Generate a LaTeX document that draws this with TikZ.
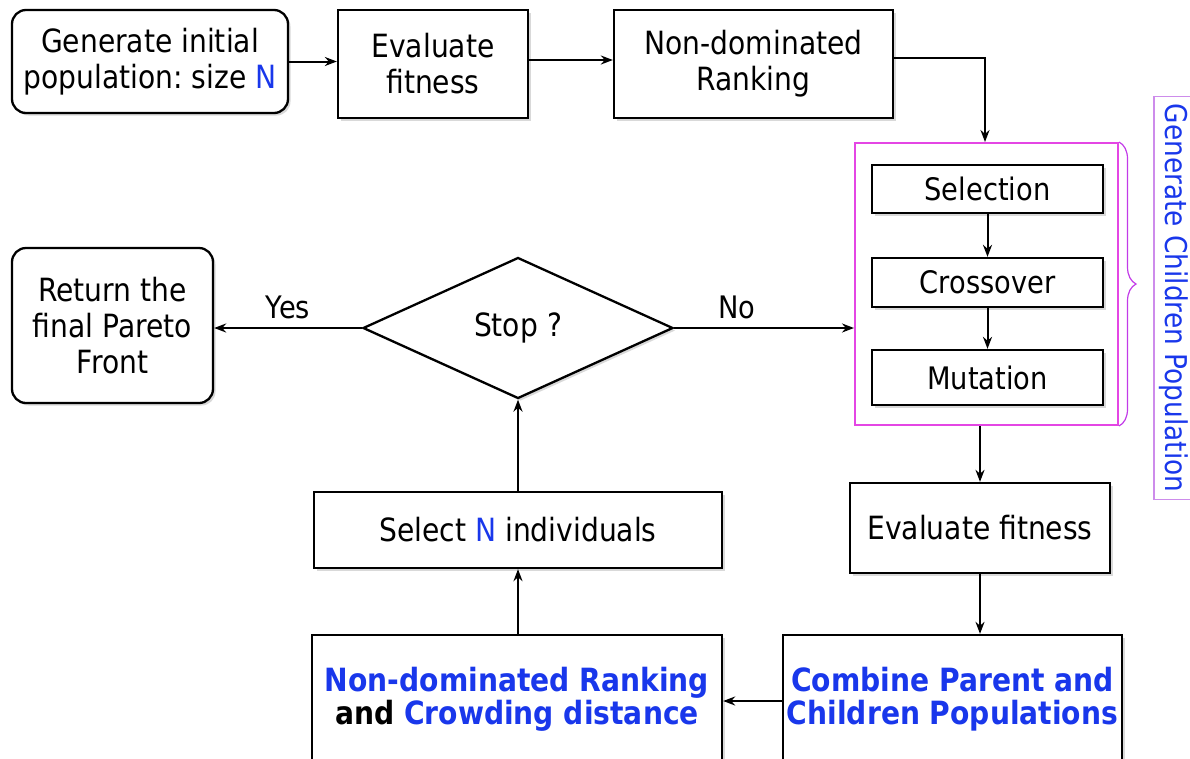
\documentclass[tikz,border=0pt]{standalone}
\usepackage{fontspec}
\setmainfont{DejaVu Sans}[FakeStretch=0.88]
\usetikzlibrary{arrows.meta,shapes.geometric,decorations.pathreplacing,shadows}
\definecolor{nblue}{RGB}{25,55,235}
\definecolor{grpframe}{RGB}{228,70,228}
\definecolor{lblframe}{RGB}{205,140,235}
\begin{document}
\begin{tikzpicture}[x=1pt,y=-1pt,
  box/.style={draw,line width=2.3pt,fill=white,align=center,inner sep=0pt,
    font=\fontsize{32}{36}\selectfont,
    drop shadow={opacity=0.3,shadow xshift=2.5pt,shadow yshift=-2.5pt}},
  rbox/.style={box,rounded corners=14pt},
  sbox/.style={box,font=\fontsize{31}{34}\selectfont},
  bbox/.style={box,font=\fontsize{32}{33}\bfseries\selectfont,text=nblue},
  arr/.style={line width=2pt,-{Stealth[length=12pt,width=9pt]}},
  lbl/.style={font=\fontsize{31}{32}\selectfont}]
\useasboundingbox (0,0) rectangle (1190,758);

% top row
\node[rbox,minimum width=276,minimum height=103] (init) at (150,61.5)
  {Generate initial\\population:\ size \textcolor{nblue}{N}};
\node[box,minimum width=190,minimum height=108] (eval) at (433,64)
  {Evaluate\\fitness};
\node[box,minimum width=279,minimum height=108] (rank) at (753.5,64)
  {Non-dominated\\Ranking};

% genetic operators group
\node[draw=grpframe,line width=2pt,fill=white,minimum width=263,minimum height=282,inner sep=0pt]
  (grp) at (986.5,284) {};
\node[sbox,minimum width=231,minimum height=48] (sel) at (987.5,189) {Selection};
\node[sbox,minimum width=231,minimum height=49] (cro) at (987.5,282.5) {Crossover};
\node[sbox,minimum width=231,minimum height=55] (mut) at (987.5,377.5) {Mutation};

% brace and its vertical caption
\draw[grpframe!85!blue,line width=1.2pt,decorate,decoration={brace,amplitude=17pt}]
  (grp.north east) -- (grp.south east);
\node[draw=lblframe,line width=1.2pt,rotate=-90,minimum width=403,minimum height=40,
  inner sep=0pt,text=nblue,font=\fontsize{30}{32}\selectfont] (cap) at (1174,298)
  {Generate Children Population};

% right column
\node[box,minimum width=260,minimum height=90] (fit) at (980,528) {Evaluate fitness};
\node[bbox,minimum width=339,minimum height=128] (comb) at (952.5,699)
  {Combine Parent and\\Children Populations};

% left column
\node[bbox,minimum width=410,minimum height=128] (ndr) at (517,699)
  {Non-dominated Ranking\\\textcolor{black}{and} Crowding distance};
\node[box,minimum width=408,minimum height=76] (seln) at (518,530)
  {Select \textcolor{nblue}{N} individuals};
\node[draw,line width=2.3pt,fill=white,diamond,minimum width=310,minimum height=141,
  inner sep=0pt,font=\fontsize{32}{34}\selectfont,
  drop shadow={opacity=0.3,shadow xshift=2.5pt,shadow yshift=-2.5pt}] (stop) at (518,328) {Stop ?};
\node[rbox,minimum width=201,minimum height=155] (ret) at (112.5,325.5)
  {Return the\\final Pareto\\Front};

% connectors
\draw[arr] (init.east) -- (init.east -| eval.west);
\draw[arr] ([yshift=4pt]eval.east) -- ([yshift=4pt]eval.east -| rank.west);
\draw[arr] ([yshift=6pt]rank.east) -| ([xshift=-1.5pt]grp.north);
\draw[arr] (sel) -- (cro);
\draw[arr] (cro) -- (mut);
\draw[arr] (grp.south -| fit.north) -- (fit.north);
\draw[arr] (fit.south) -- (fit.south |- comb.north);
\draw[arr] ([yshift=-2pt]comb.west) -- ([yshift=-2pt]ndr.east);
\draw[arr] (ndr.north -| seln.south) -- (seln.south);
\draw[arr] (seln.north) -- (stop.south);
\draw[arr] (stop.east) -- (stop.east -| grp.west) node[lbl,pos=0.35,above=5pt] {No};
\draw[arr] (stop.west) -- (stop.west -| ret.east) node[lbl,midway,above=5pt] {Yes};
\end{tikzpicture}
\end{document}
